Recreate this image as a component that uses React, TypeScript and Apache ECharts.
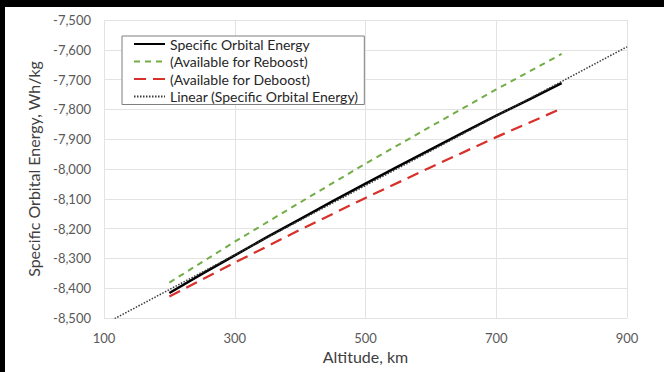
import React, { useEffect, useRef } from "react";
import * as echarts from "echarts";

// Altitude (km) for the computed specific orbital energy curve
const altitudes = [200, 250, 300, 350, 400, 450, 500, 550, 600, 650, 700, 750, 800];
// Specific orbital energy, Wh/kg
const orbitalEnergy = [
  -8416, -8352, -8290, -8228, -8168, -8108, -8049, -7991, -7934, -7877, -7821, -7767, -7712,
];

// Altitudes for the reboost / deboost curves
const boostAltitudes = [200, 300, 400, 500, 600, 700, 800];
const reboost = [-8381, -8244, -8112, -7982, -7857, -7733, -7614];
const deboost = [-8428, -8314, -8204, -8097, -7994, -7893, -7797];

// Linear trendline endpoints
const trendAltitudes = [100, 900];
const trendValues = [-8521, -7590];

const xTicks = { min: 100, max: 900, interval: 200 };
const yTicks = { min: -8500, max: -7500, interval: 100 };

const pairs = (xs: number[], ys: number[]) => xs.map((x, i) => [x, ys[i]]);

const FONT = "Lato, 'Open Sans', sans-serif";

export default function App() {
  const ref = useRef<HTMLDivElement>(null);

  useEffect(() => {
    if (!ref.current) return;
    const chart = echarts.init(ref.current, undefined, { renderer: "svg" });
    chart.setOption({
      animation: false,
      backgroundColor: "#ffffff",
      textStyle: { fontFamily: FONT },
      grid: { left: 99, right: 37, top: 13, bottom: 54, containLabel: false },
      legend: {
        orient: "vertical",
        left: 117,
        top: 29,
        padding: [1, 6, 1, 11],
        itemWidth: 31,
        itemHeight: 14,
        itemGap: 3.5,
        borderColor: "#7f7f7f",
        borderWidth: 1,
        backgroundColor: "#ffffff",
        borderRadius: 0,
        itemStyle: { opacity: 0 },
        textStyle: { fontFamily: FONT, fontSize: 14, color: "#262626", lineHeight: 14 },
        data: [
          "Specific Orbital Energy",
          "(Available for Reboost)",
          "(Available for Deboost)",
          "Linear (Specific Orbital Energy)",
        ],
      },
      xAxis: {
        type: "value",
        min: xTicks.min,
        max: xTicks.max,
        interval: xTicks.interval,
        name: "Altitude, km",
        nameLocation: "middle",
        nameGap: 30,
        nameTextStyle: { fontFamily: FONT, fontSize: 16, color: "#404040" },
        axisLine: { show: false },
        axisTick: { show: false },
        axisLabel: { fontFamily: FONT, fontSize: 13, color: "#595959", margin: 13 },
        splitLine: { show: true, lineStyle: { color: "#e3e3e3", width: 1 } },
      },
      yAxis: {
        type: "value",
        min: yTicks.min,
        max: yTicks.max,
        interval: yTicks.interval,
        name: "Specific Orbital Energy, Wh/kg",
        nameLocation: "middle",
        nameGap: 63,
        nameTextStyle: { fontFamily: FONT, fontSize: 16, color: "#404040" },
        axisLine: { show: false },
        axisTick: { show: false },
        axisLabel: {
          fontFamily: FONT,
          fontSize: 13,
          color: "#595959",
          margin: 13,
          formatter: (v: number) => v.toLocaleString("en-US"),
        },
        splitLine: { show: true, lineStyle: { color: "#e3e3e3", width: 1 } },
      },
      series: [
        {
          name: "Specific Orbital Energy",
          type: "line",
          symbol: "none",
          data: pairs(altitudes, orbitalEnergy),
          lineStyle: { color: "#000000", width: 2.5 },
          itemStyle: { color: "#000000" },
        },
        {
          name: "(Available for Reboost)",
          type: "line",
          symbol: "none",
          data: pairs(boostAltitudes, reboost),
          lineStyle: { color: "#72ad47", width: 2, type: [6, 5] },
          itemStyle: { color: "#72ad47" },
        },
        {
          name: "(Available for Deboost)",
          type: "line",
          symbol: "none",
          data: pairs(boostAltitudes, deboost),
          lineStyle: { color: "#d8312c", width: 2.25, type: [12, 7] },
          itemStyle: { color: "#d8312c" },
        },
        {
          name: "Linear (Specific Orbital Energy)",
          type: "line",
          symbol: "none",
          clip: true,
          data: pairs(trendAltitudes, trendValues),
          lineStyle: { color: "#3a3a3a", width: 1.5, type: [1.5, 1.5] },
          itemStyle: { color: "#3a3a3a" },
        },
      ],
    });
    return () => chart.dispose();
  }, []);

  return (
    <div
      style={{
        position: "absolute",
        left: 0,
        top: 0,
        width: 664,
        height: 372,
        background: "#000000",
        overflow: "hidden",
      }}
    >
      <div
        ref={ref}
        style={{ position: "absolute", left: 5, top: 7, width: 659, height: 365, background: "#ffffff" }}
      />
    </div>
  );
}
